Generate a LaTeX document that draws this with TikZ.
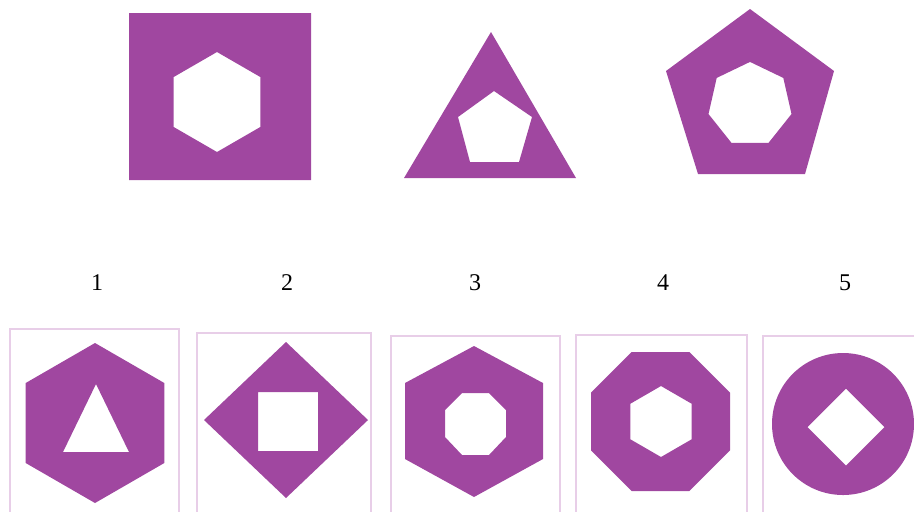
\documentclass[tikz,border=0pt]{standalone}
\usepackage{fontspec}
\setmainfont{Liberation Serif}
\definecolor{purp}{RGB}{160,71,160}
\definecolor{boxc}{RGB}{232,206,232}
\begin{document}
\begin{tikzpicture}[x=0.5pt,y=-0.5pt,
  holed/.style={fill=purp,even odd rule},
  frame/.style={draw=boxc,line width=0.8pt},
  lbl/.style={font=\fontsize{12}{14}\selectfont,inner sep=0pt}]
\useasboundingbox (0,0) rectangle (914,511);
\clip (0,0) rectangle (914,511);
% ---------- top row ----------
\fill[holed] (129,13) rectangle (311,180)
  (217,52) -- (260.3,77) -- (260.3,127) -- (217,152) -- (173.7,127) -- (173.7,77) -- cycle;
\fill[holed] (491,32) -- (576,178) -- (404,178) -- cycle
  (494,91) -- (532,117) -- (519,162) -- (470,162) -- (458,117) -- cycle;
\fill[holed] (750,9) -- (834,71) -- (805,174) -- (698,174) -- (666,71) -- cycle
  (750,61.9) -- (783.3,77.9) -- (791.5,114) -- (768.5,142.9) -- (731.5,142.9) -- (708.5,114) -- (716.7,77.9) -- cycle;
% ---------- labels ----------
\node[lbl] (l1) at (97,283) {1};
\node[lbl] (l2) at (287,283) {2};
\node[lbl] (l3) at (475,283) {3};
\node[lbl] (l4) at (663,283) {4};
\node[lbl] (l5) at (845,283) {5};
% ---------- frames ----------
\draw[frame] (10,329) rectangle (179,530);
\draw[frame] (197,333) rectangle (371,530);
\draw[frame] (391,336) rectangle (560,530);
\draw[frame] (576,335) rectangle (747,530);
\draw[frame] (763,336) rectangle (940,530);
% ---------- bottom shapes ----------
\fill[holed] (95,343) -- (164.3,383) -- (164.3,463) -- (95,503) -- (25.7,463) -- (25.7,383) -- cycle
  (96,384) -- (129,452) -- (63,452) -- cycle;
\fill[holed] (286,342) -- (368,420) -- (286,498) -- (204,420) -- cycle
  (258,392) rectangle (318,451);
\fill[holed] (474,346) -- (543,383) -- (543,459) -- (474,497) -- (405,459) -- (405,383) -- cycle
  (462,393) -- (489,393) -- (506,410) -- (506,437) -- (489,455) -- (462,455) -- (445,437) -- (445,410) -- cycle;
\fill[holed] (631.7,352) -- (689.3,352) -- (730,392.7) -- (730,450.3) -- (689.3,491) -- (631.7,491) -- (591,450.3) -- (591,392.7) -- cycle
  (661,386) -- (691.7,403.75) -- (691.7,439.25) -- (661,457) -- (630.3,439.25) -- (630.3,403.75) -- cycle;
\fill[holed] (843,424) circle[radius=71]
  (846,388.5) -- (884.5,427) -- (846,465.5) -- (807.5,427) -- cycle;
\end{tikzpicture}
\end{document}
